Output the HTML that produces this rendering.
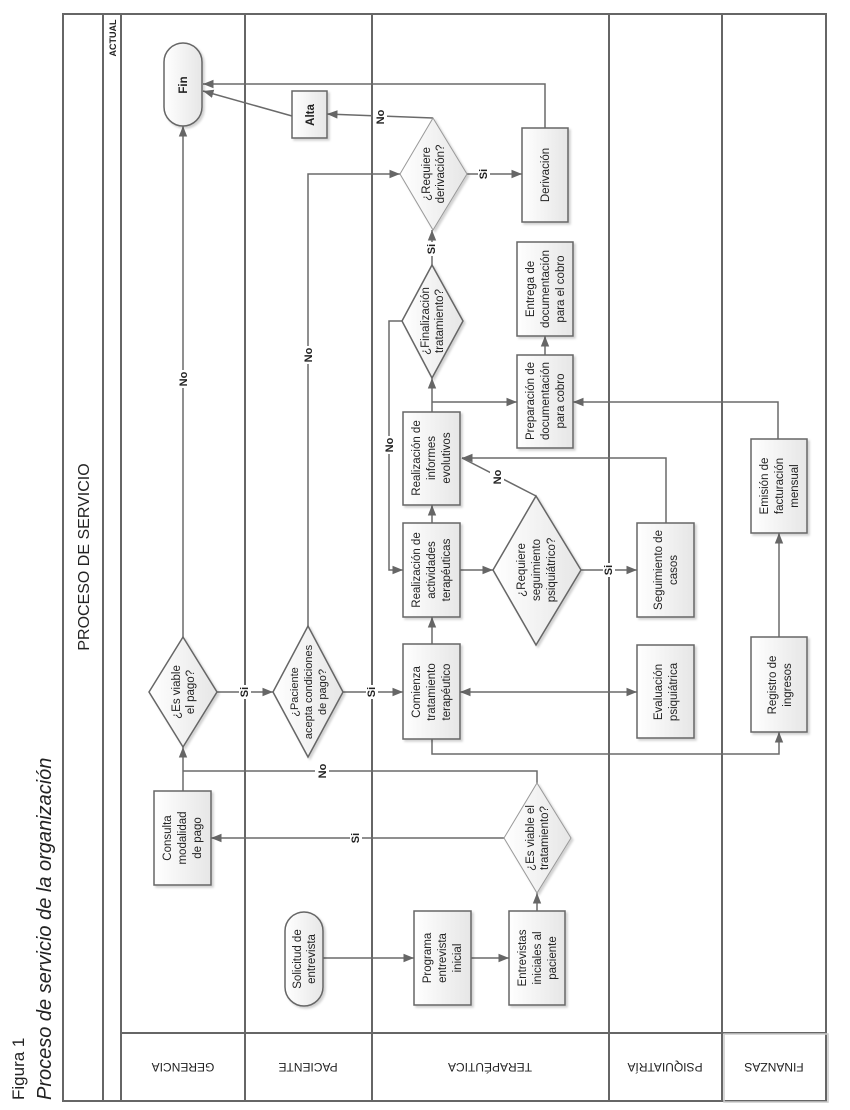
<!DOCTYPE html>
<html><head><meta charset="utf-8"><style>
html,body{margin:0;padding:0;background:#fff}
svg{display:block}
text{font-family:"Liberation Sans",sans-serif;fill:#222}
.b{font-weight:bold}
</style></head><body>
<svg width="850" height="1110" viewBox="0 0 850 1110" xmlns="http://www.w3.org/2000/svg">
<defs>
<linearGradient id="g" x1="0" y1="0" x2="1" y2="0"><stop offset="0" stop-color="#fff"/><stop offset="1" stop-color="#e6e6e6"/></linearGradient>
<marker id="a" viewBox="0 0 10 10" refX="10" refY="5" markerWidth="7" markerHeight="7" orient="auto-start-reverse"><path d="M0,1 L10,5 L0,9 z" fill="#666"/></marker>
<filter id="s" x="-10%" y="-10%" width="130%" height="130%"><feDropShadow dx="2" dy="2" stdDeviation="1" flood-color="#000" flood-opacity="0.18"/></filter>
</defs>

<text transform="translate(24,1100) rotate(-90)" font-size="17">Figura 1</text>
<text transform="translate(51,1100) rotate(-90)" font-size="20" font-style="italic">Proceso de servicio de la organización</text>

<g stroke="#666" stroke-width="2" fill="none">
<rect x="63" y="14" width="763" height="1087"/>
<line x1="103" y1="14" x2="103" y2="1101"/>
<line x1="121" y1="14" x2="121" y2="1101"/>
<line x1="245" y1="14" x2="245" y2="1101"/>
<line x1="372" y1="14" x2="372" y2="1101"/>
<line x1="609" y1="14" x2="609" y2="1101"/>
<line x1="722" y1="14" x2="722" y2="1101"/>
<line x1="121" y1="1033" x2="826" y2="1033"/>
</g>
<rect x="724" y="1034" width="104" height="68" fill="none" stroke="#ccc" stroke-width="1.5"/>
<text transform="translate(89,557) rotate(-90)" font-size="16" text-anchor="middle">PROCESO DE SERVICIO</text>
<text transform="translate(116,38) rotate(-90)" font-size="9" class="b" text-anchor="middle">ACTUAL</text>

<g font-size="12" text-anchor="middle">
<text transform="translate(183,1063) rotate(180)">GERENCIA</text>
<text transform="translate(308,1063) rotate(180)">PACIENTE</text>
<text transform="translate(490,1063) rotate(180)">TERAPÉUTICA</text>
<text transform="translate(665,1063) rotate(180)">PSIQUIATRÍA</text>
<text transform="translate(774,1063) rotate(180)">FINANZAS</text>
</g>

<g stroke="#6a6a6a" stroke-width="1.5" fill="none">
<line x1="323" y1="958" x2="414" y2="958" marker-end="url(#a)"/>
<line x1="471" y1="958" x2="509" y2="958" marker-end="url(#a)"/>
<line x1="537" y1="911" x2="537" y2="893" marker-end="url(#a)"/>
<line x1="504" y1="838" x2="211" y2="838" marker-end="url(#a)"/>
<polyline points="537,783 537,771 183,771"/>
<line x1="183" y1="791" x2="183" y2="747" marker-end="url(#a)"/>
<line x1="217" y1="692" x2="273" y2="692" marker-end="url(#a)"/>
<line x1="183" y1="637" x2="183" y2="126" marker-end="url(#a)"/>
<line x1="343" y1="692" x2="403" y2="692" marker-end="url(#a)"/>
<polyline points="308,626 308,174 400,174" marker-end="url(#a)"/>
<line x1="460" y1="692" x2="637" y2="692" marker-start="url(#a)" marker-end="url(#a)"/>
<polyline points="432,739 432,754 779,754 779,732" marker-end="url(#a)"/>
<line x1="432" y1="644" x2="432" y2="617" marker-end="url(#a)"/>
<line x1="460" y1="570" x2="493" y2="570" marker-end="url(#a)"/>
<line x1="581" y1="570" x2="637" y2="570" marker-end="url(#a)"/>
<polyline points="666,523 666,458 462,458" marker-end="url(#a)"/>
<line x1="536" y1="496" x2="462" y2="458"/>
<line x1="432" y1="523" x2="432" y2="505" marker-end="url(#a)"/>
<line x1="432" y1="412" x2="432" y2="378" marker-end="url(#a)"/>
<line x1="432" y1="402" x2="517" y2="402" marker-end="url(#a)"/>
<polyline points="402,321 389,321 389,570 403,570" marker-end="url(#a)"/>
<line x1="432" y1="265" x2="432" y2="230" marker-end="url(#a)"/>
<line x1="467" y1="174" x2="522" y2="174" marker-end="url(#a)"/>
<line x1="433" y1="118" x2="327" y2="114" marker-end="url(#a)"/>
<line x1="292" y1="116" x2="203" y2="91" marker-end="url(#a)"/>
<polyline points="545,128 545,84 203,84" marker-end="url(#a)"/>
<line x1="545" y1="355" x2="545" y2="336" marker-end="url(#a)"/>
<polyline points="778,439 778,402 573,402" marker-end="url(#a)"/>
<line x1="779" y1="637" x2="779" y2="533" marker-end="url(#a)"/>
</g>

<g font-size="11" text-anchor="middle">
<rect x="350" y="831" width="12" height="14" fill="#fff"/><text transform="translate(359,838) rotate(-90)" class="b">Si</text>
<rect x="315" y="764" width="14" height="16" fill="#fff"/><text transform="translate(326,771) rotate(-90)" class="b">No</text>
<rect x="239" y="685" width="12" height="14" fill="#fff"/><text transform="translate(248,692) rotate(-90)" class="b">Si</text>
<rect x="366" y="685" width="12" height="14" fill="#fff"/><text transform="translate(375,692) rotate(-90)" class="b">Si</text>
<rect x="176" y="370" width="14" height="18" fill="#fff"/><text transform="translate(187,379) rotate(-90)" class="b">No</text>
<rect x="301" y="346" width="14" height="18" fill="#fff"/><text transform="translate(312,355) rotate(-90)" class="b">No</text>
<rect x="382" y="436" width="14" height="18" fill="#fff"/><text transform="translate(393,445) rotate(-90)" class="b">No</text>
<rect x="490" y="468" width="14" height="18" fill="#fff"/><text transform="translate(501,477) rotate(-90)" class="b">No</text>
<rect x="603" y="563" width="12" height="14" fill="#fff"/><text transform="translate(612,570) rotate(-90)" class="b">Si</text>
<rect x="426" y="242" width="12" height="14" fill="#fff"/><text transform="translate(435,249) rotate(-90)" class="b">Si</text>
<rect x="478" y="167" width="12" height="14" fill="#fff"/><text transform="translate(487,174) rotate(-90)" class="b">Si</text>
<rect x="373" y="108" width="14" height="18" fill="#fff"/><text transform="translate(384,117) rotate(-90)" class="b">No</text>
</g>

<g stroke="#666" stroke-width="1.5" fill="url(#g)" filter="url(#s)">
<rect x="164" y="43" width="38" height="83" rx="19"/>
<rect x="292" y="91" width="35" height="47"/>
<polygon points="400,174 433,118 467,174 433,230" stroke="#999" stroke-width="1"/>
<rect x="522" y="128" width="46" height="94"/>
<polygon points="402,321 432,265 463,321 432,378"/>
<rect x="517" y="242" width="56" height="94"/>
<rect x="517" y="355" width="56" height="93"/>
<rect x="403" y="412" width="57" height="93"/>
<rect x="403" y="523" width="57" height="94"/>
<polygon points="493,570 536,496 581,570 536,645"/>
<rect x="637" y="523" width="57" height="94"/>
<rect x="751" y="439" width="56" height="94"/>
<polygon points="149,692 183,637 217,692 183,747"/>
<polygon points="273,692 308,626 343,692 308,757"/>
<rect x="403" y="644" width="57" height="95"/>
<rect x="637" y="645" width="57" height="93"/>
<rect x="751" y="637" width="56" height="95"/>
<rect x="154" y="791" width="57" height="94"/>
<polygon points="504,838 537,783 571,838 537,893" stroke="#999" stroke-width="1"/>
<rect x="285" y="912" width="38" height="94" rx="19"/>
<rect x="414" y="911" width="57" height="94"/>
<rect x="509" y="911" width="56" height="94"/>
</g>

<g font-size="11.5" text-anchor="middle">
<text transform="translate(183,85) rotate(-90)" class="b" dy="4">Fin</text>
<text transform="translate(310,115) rotate(-90)" class="b" dy="4">Alta</text>
<text transform="translate(433,174) rotate(-90)"><tspan x="0" dy="-3">¿Requiere</tspan><tspan x="0" dy="14">derivación?</tspan></text>
<text transform="translate(545,175) rotate(-90)" dy="4">Derivación</text>
<text transform="translate(432,321) rotate(-90)"><tspan x="0" dy="-3">¿Finalización</tspan><tspan x="0" dy="14">tratamiento?</tspan></text>
<text transform="translate(545,289) rotate(-90)"><tspan x="0" dy="-11">Entrega de</tspan><tspan x="0" dy="15">documentación</tspan><tspan x="0" dy="15">para el cobro</tspan></text>
<text transform="translate(545,401) rotate(-90)"><tspan x="0" dy="-11">Preparación de</tspan><tspan x="0" dy="15">documentación</tspan><tspan x="0" dy="15">para cobro</tspan></text>
<text transform="translate(431,458) rotate(-90)"><tspan x="0" dy="-11">Realización de</tspan><tspan x="0" dy="15">informes</tspan><tspan x="0" dy="15">evolutivos</tspan></text>
<text transform="translate(431,570) rotate(-90)"><tspan x="0" dy="-11">Realización de</tspan><tspan x="0" dy="15">actividades</tspan><tspan x="0" dy="15">terapéuticas</tspan></text>
<text transform="translate(536,570) rotate(-90)"><tspan x="0" dy="-11">¿Requiere</tspan><tspan x="0" dy="15">seguimiento</tspan><tspan x="0" dy="15">psiquiátrico?</tspan></text>
<text transform="translate(665,570) rotate(-90)"><tspan x="0" dy="-3">Seguimiento de</tspan><tspan x="0" dy="15">casos</tspan></text>
<text transform="translate(779,486) rotate(-90)"><tspan x="0" dy="-11">Emisión de</tspan><tspan x="0" dy="15">facturación</tspan><tspan x="0" dy="15">mensual</tspan></text>
<text transform="translate(183,692) rotate(-90)"><tspan x="0" dy="-3">¿Es viable</tspan><tspan x="0" dy="14">el pago?</tspan></text>
<text transform="translate(308,692) rotate(-90)" font-size="11"><tspan x="0" dy="-10">¿Paciente</tspan><tspan x="0" dy="14">acepta condiciones</tspan><tspan x="0" dy="14">de pago?</tspan></text>
<text transform="translate(431,692) rotate(-90)"><tspan x="0" dy="-11">Comienza</tspan><tspan x="0" dy="15">tratamiento</tspan><tspan x="0" dy="15">terapéutico</tspan></text>
<text transform="translate(665,692) rotate(-90)"><tspan x="0" dy="-3">Evaluación</tspan><tspan x="0" dy="15">psiquiátrica</tspan></text>
<text transform="translate(779,685) rotate(-90)"><tspan x="0" dy="-3">Registro de</tspan><tspan x="0" dy="15">ingresos</tspan></text>
<text transform="translate(182,838) rotate(-90)"><tspan x="0" dy="-11">Consulta</tspan><tspan x="0" dy="15">modalidad</tspan><tspan x="0" dy="15">de pago</tspan></text>
<text transform="translate(537,838) rotate(-90)"><tspan x="0" dy="-3">¿Es viable el</tspan><tspan x="0" dy="14">tratamiento?</tspan></text>
<text transform="translate(304,959) rotate(-90)"><tspan x="0" dy="-3">Solicitud de</tspan><tspan x="0" dy="14">entrevista</tspan></text>
<text transform="translate(442,958) rotate(-90)"><tspan x="0" dy="-11">Programa</tspan><tspan x="0" dy="15">entrevista</tspan><tspan x="0" dy="15">inicial</tspan></text>
<text transform="translate(537,958) rotate(-90)"><tspan x="0" dy="-11">Entrevistas</tspan><tspan x="0" dy="15">iniciales al</tspan><tspan x="0" dy="15">paciente</tspan></text>
</g>
</svg>
</body></html>
